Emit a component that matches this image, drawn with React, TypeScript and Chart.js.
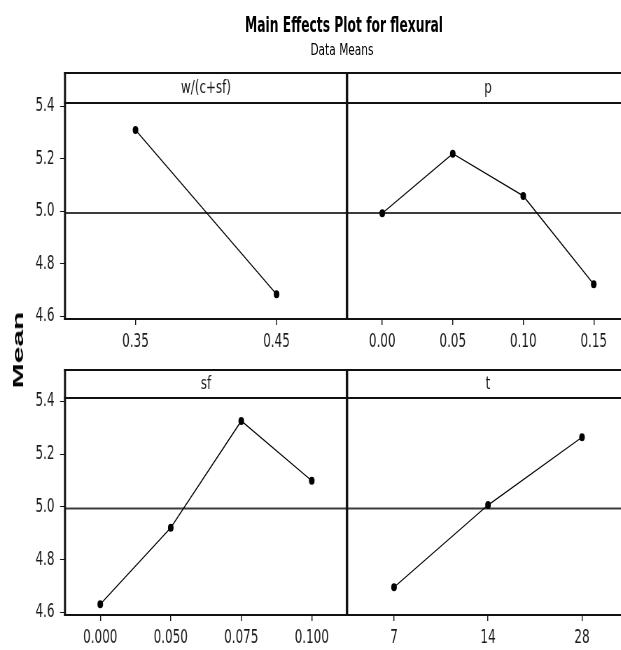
import React, { useEffect, useLayoutEffect, useRef, useState } from "react";
import { Chart, registerables } from "chart.js";

Chart.register(...registerables);

// ---------------- data ----------------
const wcLevels = ["0.35", "0.45"];
const wcMeans = [5.31, 4.684];
const pLevels = ["0.00", "0.05", "0.10", "0.15"];
const pMeans = [4.993, 5.22, 5.059, 4.722];
const sfLevels = ["0.000", "0.050", "0.075", "0.100"];
const sfMeans = [4.631, 4.921, 5.326, 5.099];
const tLevels = ["7", "14", "28"];
const tMeans = [4.695, 5.007, 5.264];
const meanTicks = [4.6, 4.8, 5.0, 5.2, 5.4];
const grandMean = 4.994;
const factorNames = ["w/(c+sf)", "p", "sf", "t"];
const chartTitle = "Main Effects Plot for flexural";
const chartSubtitle = "Data Means";
const yAxisTitle = "Mean";

// ---------------- layout ----------------
const SX = 0.7; // horizontal compression of the whole plot
const CW = 920;
const CH = 680;
const Y_MIN = 4.59;
const Y_MAX = 5.413;
const FONT = '"DejaVu Sans", Verdana, sans-serif';
const TICK_FONT = '"DejaVu Sans Condensed", "DejaVu Sans", sans-serif';
const PL = 65 / SX;
const PM = 347 / SX;
const PR = 629 / SX;
const rows = [
  { stripTop: 73, top: 103, bottom: 319 },
  { stripTop: 370, top: 398, bottom: 615 },
];

type Spec = {
  name: string;
  labels: string[];
  values: number[];
  left: number;
  right: number;
  row: number;
  showY: boolean;
};

const panelSpecs: Spec[] = [
  { name: factorNames[0], labels: wcLevels, values: wcMeans, left: PL, right: PM, row: 0, showY: true },
  { name: factorNames[1], labels: pLevels, values: pMeans, left: PM, right: PR, row: 0, showY: false },
  { name: factorNames[2], labels: sfLevels, values: sfMeans, left: PL, right: PM, row: 1, showY: true },
  { name: factorNames[3], labels: tLevels, values: tMeans, left: PM, right: PR, row: 1, showY: false },
];

const framePlugin = {
  id: "panelFrame",
  beforeDatasetsDraw(chart: any, _a: any, opts: any) {
    const { ctx, chartArea } = chart;
    const y = chart.scales.y.getPixelForValue(opts.mean);
    ctx.save();
    ctx.strokeStyle = "#3c3c3c";
    ctx.lineWidth = 2;
    ctx.beginPath();
    ctx.moveTo(chartArea.left, y);
    ctx.lineTo(chartArea.right, y);
    ctx.stroke();
    ctx.restore();
  },
  afterDraw(chart: any, _a: any, opts: any) {
    const { ctx, chartArea } = chart;
    const { left, right, top, bottom } = chartArea;
    const st = opts.stripTop;
    ctx.save();
    ctx.strokeStyle = "#111";
    ctx.lineWidth = 2;
    ctx.beginPath();
    [st, top, bottom].forEach((yy: number) => {
      ctx.moveTo(left - 1.5, yy);
      ctx.lineTo(right + 1.5, yy);
    });
    ctx.stroke();
    ctx.lineWidth = 3;
    ctx.beginPath();
    ctx.moveTo(left, st - 1);
    ctx.lineTo(left, bottom + 1);
    ctx.moveTo(right, st - 1);
    ctx.lineTo(right, bottom + 1);
    ctx.stroke();
    ctx.fillStyle = "#1a1a1a";
    ctx.font = `17px ${FONT}`;
    ctx.textAlign = "center";
    ctx.textBaseline = "middle";
    ctx.fillText(opts.name, (left + right) / 2, (st + top) / 2 + 1);
    ctx.restore();
  },
};

function PanelChart({ spec }: { spec: Spec }) {
  const ref = useRef<HTMLCanvasElement>(null);
  useEffect(() => {
    const row = rows[spec.row];
    const YW = 60;
    const XH = 40;
    const yScale: any = {
      type: "linear",
      display: spec.showY,
      min: Y_MIN,
      max: Y_MAX,
      afterBuildTicks: (s: any) => {
        s.ticks = meanTicks.map((v) => ({ value: v }));
      },
      grid: { display: true, drawOnChartArea: false, drawTicks: true, tickLength: 7, color: "#111", lineWidth: 1 },
      border: { display: false },
      ticks: {
        font: { family: TICK_FONT, size: 19 },
        color: "#1a1a1a",
        padding: 8,
        callback: (v: any) => Number(v).toFixed(1),
      },
    };
    if (spec.showY) {
      yScale.afterFit = (s: any) => {
        s.width = YW;
      };
    }
    const chart = new Chart(ref.current as HTMLCanvasElement, {
      type: "line",
      data: {
        labels: spec.labels,
        datasets: [
          {
            data: spec.values,
            borderColor: "#000",
            borderWidth: 1.3,
            pointRadius: 4,
            pointHoverRadius: 4,
            pointBackgroundColor: "#000",
            pointBorderColor: "#000",
            pointBorderWidth: 0,
            tension: 0,
            fill: false,
          },
        ],
      },
      options: {
        responsive: false,
        maintainAspectRatio: false,
        animation: false,
        devicePixelRatio: 1,
        events: [],
        layout: {
          padding: {
            left: spec.showY ? spec.left - YW : spec.left,
            right: CW - spec.right,
            top: row.top,
            bottom: CH - row.bottom - XH,
          },
        },
        plugins: {
          legend: { display: false },
          tooltip: { enabled: false },
          panelFrame: { name: spec.name, stripTop: row.stripTop, mean: grandMean },
        } as any,
        scales: {
          x: {
            type: "category",
            offset: true,
            grid: { display: true, drawOnChartArea: false, drawTicks: true, tickLength: 6, color: "#111", lineWidth: 1.4 },
            border: { display: false },
            ticks: {
              font: { family: TICK_FONT, size: 19 },
              color: "#1a1a1a",
              padding: 6,
              maxRotation: 0,
              minRotation: 0,
              autoSkip: false,
            },
            afterFit: (s: any) => {
              s.height = XH;
            },
          },
          y: yScale,
        },
      },
      plugins: [framePlugin as any],
    });
    return () => chart.destroy();
  }, []);
  return (
    <canvas
      ref={ref}
      width={CW}
      height={CH}
      style={{ position: "absolute", left: 0, top: 0, transform: `scaleX(${SX})`, transformOrigin: "0 0" }}
    />
  );
}

type FitProps = {
  text: string;
  family: string;
  size: number;
  weight: number;
  width: number;
  cx: number;
  top?: number;
  cy?: number;
  rotate?: number;
};

function FitText({ text, family, size, weight, width, cx, top, cy, rotate = 0 }: FitProps) {
  const ref = useRef<HTMLSpanElement>(null);
  const [sx, setSx] = useState(1);
  useLayoutEffect(() => {
    if (ref.current) {
      const w = ref.current.offsetWidth;
      if (w > 0) setSx(width / w);
    }
  }, [text, width]);
  const transform =
    top !== undefined
      ? `translateX(-50%) scaleX(${sx})`
      : `translate(-50%, -50%) rotate(${rotate}deg) scaleX(${sx})`;
  return (
    <span
      ref={ref}
      style={{
        position: "absolute",
        left: cx,
        top: top !== undefined ? top : cy,
        whiteSpace: "nowrap",
        fontFamily: family,
        fontSize: size,
        fontWeight: weight,
        lineHeight: "normal",
        color: "#000",
        transform,
      }}
    >
      {text}
    </span>
  );
}

export default function App() {
  return (
    <div
      style={{
        position: "absolute",
        left: 0,
        top: 0,
        width: 621,
        height: 650,
        overflow: "hidden",
        background: "#fff",
      }}
    >
      {panelSpecs.map((s, i) => (
        <PanelChart key={i} spec={s} />
      ))}
      <FitText text={chartTitle} family={FONT} size={22} weight={700} width={198} cx={344} top={32 - 0.928 * 22} />
      <FitText text={chartSubtitle} family={FONT} size={16.5} weight={400} width={63} cx={342} top={55 - 0.928 * 16.5} />
      <FitText
        text={yAxisTitle}
        family={'"Liberation Sans", Arial, sans-serif'}
        size={15.4}
        weight={700}
        width={76}
        cx={17.5}
        cy={350}
        rotate={-90}
      />
    </div>
  );
}
